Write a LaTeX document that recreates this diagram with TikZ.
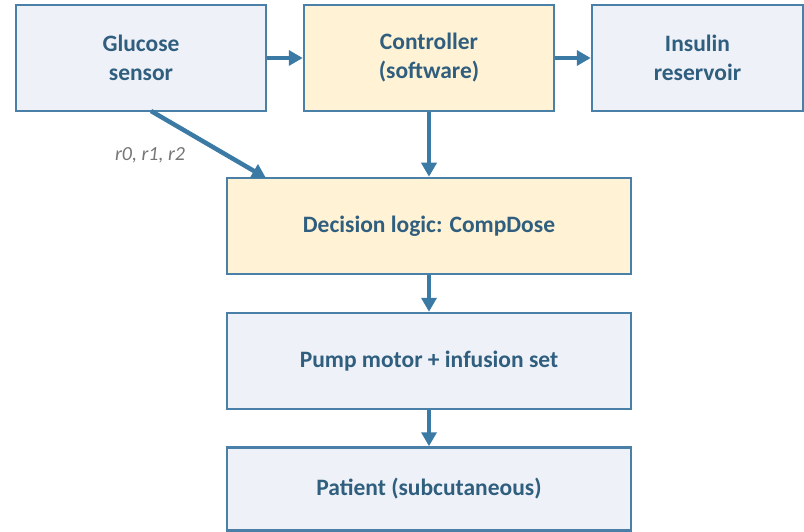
\documentclass[tikz,border=0pt]{standalone}
\usepackage{fontspec}
\setmainfont{Carlito}
\usetikzlibrary{arrows.meta}
\definecolor{bordc}{HTML}{4A80A8}
\definecolor{arrc}{HTML}{3B7AA5}
\definecolor{txtc}{HTML}{2F5E7E}
\definecolor{bluef}{HTML}{EEF2F8}
\definecolor{yelf}{HTML}{FFF2D5}
\definecolor{lblc}{HTML}{767676}
\tikzset{
  boxb/.style={draw=bordc, line width=2.5pt, fill=bluef, inner sep=0pt, align=center,
    text=txtc, font=\fontsize{23.5}{29}\selectfont\bfseries},
  boxy/.style={boxb, fill=yelf},
  conn/.style={draw=arrc, line width=4.5pt, -{Triangle[length=14pt,width=15pt]}},
  lbl/.style={text=lblc, font=\fontsize{20}{24}\selectfont\itshape}
}
\begin{document}
\begin{tikzpicture}[x=1pt,y=-1pt]
\useasboundingbox (0,0) rectangle (804,532);
\node[boxb, minimum width=250pt, minimum height=106pt] (sensor) at (141,58) {Glucose\\sensor};
\node[boxy, minimum width=250pt, minimum height=106pt] (ctrl) at (429,58) {Controller\\(software)};
\node[boxb, minimum width=211pt, minimum height=106pt] (res) at (697.5,58) {Insulin\\reservoir};
\node[boxy, minimum width=404pt, minimum height=96pt] (dec) at (429,226) {Decision logic: CompDose};
\node[boxb, minimum width=404pt, minimum height=96pt] (pump) at (429,361) {Pump motor + infusion set};
\node[boxb, minimum width=404pt, minimum height=83pt] (pat) at (429,489) {Patient (subcutaneous)};
\coordinate (sb) at (151,111);
\coordinate (dt) at (266,178);
\draw[conn] (sensor.east) -- (ctrl.west);
\draw[conn] (ctrl.east) -- (res.west);
\draw[conn] (ctrl.south) -- (dec.north);
\draw[conn] (sb) -- (dt);
\draw[conn] (dec.south) -- (pump.north);
\draw[conn] (pump.south) -- (pat.north);
\node[lbl, anchor=center] (l1) at (150,155) {r0, r1, r2};
\end{tikzpicture}
\end{document}
